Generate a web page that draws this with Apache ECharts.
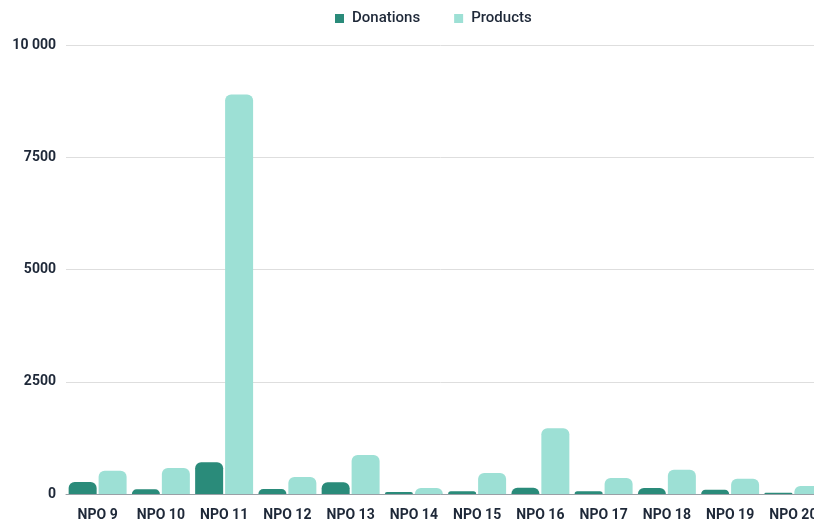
<!DOCTYPE html>
<html>
<head>
<meta charset="utf-8">
<script src="https://cdn.jsdelivr.net/npm/echarts@6/dist/echarts.min.js"></script>
<style>
  html, body { margin: 0; padding: 0; background: #fff; overflow: hidden; }
  #chart { width: 814px; height: 524px; }
</style>
</head>
<body>
<div id="chart"></div>
<script>
// Organisations on the x axis
const categories = ['NPO 9', 'NPO 10', 'NPO 11', 'NPO 12', 'NPO 13', 'NPO 14',
                    'NPO 15', 'NPO 16', 'NPO 17', 'NPO 18', 'NPO 19', 'NPO 20'];
// Amounts per organisation
const donations = [265, 105, 705, 110, 260, 45, 60, 140, 60, 135, 95, 30];
const products  = [520, 580, 8900, 380, 870, 135, 470, 1465, 355, 540, 340, 180];
// Value axis ticks
const yTicks = [0, 2500, 5000, 7500, 10000];

const textColor = '#1e2838';
const font = 'Roboto';

const chart = echarts.init(document.getElementById('chart'));
chart.setOption({
  animation: false,
  legend: {
    top: 6,
    left: 330,
    itemWidth: 9,
    itemHeight: 9,
    itemGap: 34,
    icon: 'rect',
    textStyle: { color: textColor, fontFamily: font, fontSize: 15, fontWeight: 500, padding: [0, 0, 0, 3] }
  },
  // plot area runs past the right edge of the canvas, so the last column is clipped
  grid: { left: 66, top: 45, width: 759, height: 449, containLabel: false, outerBoundsMode: 'none' },
  xAxis: {
    type: 'category',
    data: categories,
    axisTick: { show: false },
    axisLine: { lineStyle: { color: '#9aa0a6', width: 1 } },
    axisLabel: {
      interval: 0, hideOverlap: false,
      color: textColor, fontFamily: font, fontSize: 14, fontWeight: 'bold', margin: 14
    }
  },
  yAxis: {
    type: 'value',
    min: yTicks[0],
    max: yTicks[yTicks.length - 1],
    interval: yTicks[1] - yTicks[0],
    axisLine: { show: false },
    axisTick: { show: false },
    splitLine: { lineStyle: { color: '#dedede', width: 1 } },
    axisLabel: {
      color: textColor, fontFamily: font, fontSize: 14, fontWeight: 'bold', margin: 10,
      formatter: v => v >= 10000 ? String(v).replace(/\B(?=(\d{3})+(?!\d))/g, ' ') : String(v)
    }
  },
  series: [
    {
      name: 'Donations',
      type: 'bar',
      data: donations,
      barWidth: 28,
      barGap: '7%',
      itemStyle: { color: '#2a8b7a', borderRadius: [6, 6, 0, 0] }
    },
    {
      name: 'Products',
      type: 'bar',
      data: products,
      barWidth: 28,
      barGap: '7%',
      itemStyle: { color: '#9de0d5', borderRadius: [6, 6, 0, 0] }
    }
  ]
});
</script>
</body>
</html>
